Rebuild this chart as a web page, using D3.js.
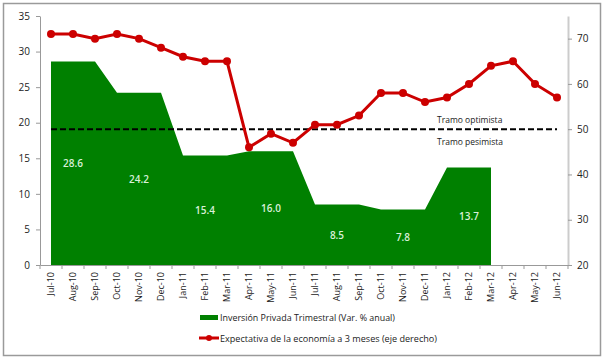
<!DOCTYPE html>
<html><head><meta charset="utf-8">
<script src="https://cdn.jsdelivr.net/npm/d3@7"></script>
<style>body{margin:0;background:#fff}svg{display:block}text{font-family:"Open Sans","Liberation Sans",sans-serif}</style>
</head><body><svg id="c" width="604" height="358"></svg>
<script>
const months = ["Jul-10","Aug-10","Sep-10","Oct-10","Nov-10","Dec-10","Jan-11","Feb-11","Mar-11","Apr-11","May-11","Jun-11","Jul-11","Aug-11","Sep-11","Oct-11","Nov-11","Dec-11","Jan-12","Feb-12","Mar-12","Apr-12","May-12","Jun-12"];
const inversion = [28.6,28.6,28.6,24.2,24.2,24.2,15.4,15.4,15.4,16.0,16.0,16.0,8.5,8.5,8.5,7.8,7.8,7.8,13.7,13.7,13.7,null,null,null];
const expectativa = [71,71,70,71,70,68,66,65,65,46,49,47,51,51,53,58,58,56,57,60,64,65,60,57];
const labelMonths = ["Aug-10","Nov-10","Feb-11","May-11","Aug-11","Nov-11","Feb-12"];
const leftTicks = [0,5,10,15,20,25,30,35];
const rightTicks = [20,30,40,50,60,70];
const threshold = 50;

const svg = d3.select("#c");
const L=40,R=568,T=16,B=265;
const x = d3.scaleBand().domain(months).range([L,R]);
const cx = m => x(m)+x.bandwidth()/2;
const yL = d3.scaleLinear().domain([0,35]).range([B,T]);
const yR = d3.scaleLinear().domain([20,75]).range([B,T]);

svg.append("rect").attr("x",3.5).attr("y",3.5).attr("width",597).attr("height",352).attr("fill","none").attr("stroke","#9a9a9a").attr("stroke-width",1.5);

const area = d3.area().defined(d=>d.v!=null).x(d=>cx(d.m)).y0(yL(0)).y1(d=>yL(d.v));
svg.append("path").datum(months.map((m,i)=>({m,v:inversion[i]}))).attr("d",area).attr("fill","#008000");

labelMonths.forEach(m=>{
  const v = inversion[months.indexOf(m)];
  svg.append("text").attr("x",cx(m)).attr("y",yL(v/2)+4).attr("text-anchor","middle")
    .attr("font-size",10).attr("font-weight","600").attr("fill","#d8f0d8").text(v.toFixed(1));
});

const ga = svg.append("g").attr("transform",`translate(${L},0)`).call(d3.axisLeft(yL).tickValues(leftTicks).tickSize(4).tickSizeOuter(0));
ga.select(".domain").attr("stroke","#999");
ga.selectAll(".tick line").attr("stroke","#999");
ga.selectAll("text").attr("font-size",10).attr("fill","#222").attr("dx",-3);

const gr = svg.append("g").attr("transform",`translate(${R},0)`).call(d3.axisRight(yR).tickValues(rightTicks).tickSize(4).tickSizeOuter(0));
gr.select(".domain").attr("stroke","#ccc").attr("stroke-width",2);
gr.selectAll(".tick line").attr("stroke","#999");
gr.selectAll("text").attr("font-size",10).attr("fill","#222").attr("dx",2);

const gb = svg.append("g").attr("transform",`translate(0,${B})`).call(d3.axisBottom(x).tickSize(0));
gb.select(".domain").attr("stroke","#999");
gb.selectAll("text").attr("font-size",9).attr("fill","#222").attr("transform","rotate(-90)")
  .attr("text-anchor","end").attr("x",-7).attr("y",0).attr("dy","0.32em");
svg.append("g").selectAll("line").data(months.concat(["_end"])).join("line")
  .attr("x1",(d,i)=>L+i*x.bandwidth()).attr("x2",(d,i)=>L+i*x.bandwidth())
  .attr("y1",B).attr("y2",B+4).attr("stroke","#999");

svg.append("line").attr("x1",cx(months[0])).attr("x2",cx(months[months.length-1]))
  .attr("y1",yR(threshold)).attr("y2",yR(threshold)).attr("stroke","#000").attr("stroke-width",2).attr("stroke-dasharray","6,3");
svg.append("text").attr("x",437).attr("y",yR(threshold)-6).attr("font-size",8.5).attr("fill","#222").text("Tramo optimista");
svg.append("text").attr("x",437).attr("y",yR(threshold)+16).attr("font-size",8.5).attr("fill","#222").text("Tramo pesimista");

const line = d3.line().x(d=>cx(d.m)).y(d=>yR(d.v));
const ed = months.map((m,i)=>({m,v:expectativa[i]}));
svg.append("path").datum(ed).attr("d",line).attr("fill","none").attr("stroke","#cc0000").attr("stroke-width",3);
svg.append("g").selectAll("circle").data(ed).join("circle").attr("cx",d=>cx(d.m)).attr("cy",d=>yR(d.v)).attr("r",4).attr("fill","#cc0000");

svg.append("rect").attr("x",200).attr("y",315).attr("width",18).attr("height",5).attr("fill","#008000");
svg.append("text").attr("x",220).attr("y",320.5).attr("font-size",9.5).attr("fill","#222")
  .attr("textLength",175).attr("lengthAdjust","spacingAndGlyphs").text("Inversión Privada Trimestral (Var. % anual)");
svg.append("line").attr("x1",199).attr("x2",219).attr("y1",338).attr("y2",338).attr("stroke","#cc0000").attr("stroke-width",3);
svg.append("circle").attr("cx",209).attr("cy",338).attr("r",3).attr("fill","#cc0000");
svg.append("text").attr("x",220).attr("y",341.5).attr("font-size",9.5).attr("fill","#222")
  .attr("textLength",217).attr("lengthAdjust","spacingAndGlyphs").text("Expectativa de la economía a 3 meses (eje derecho)");
</script></body></html>
